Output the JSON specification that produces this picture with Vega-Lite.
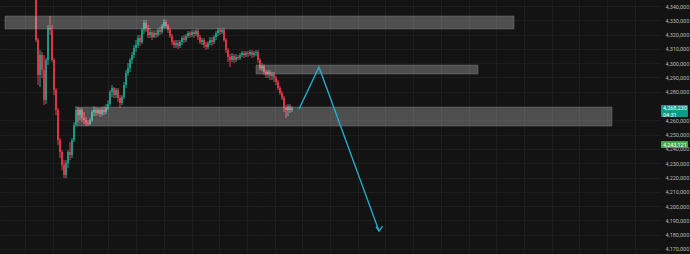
{
  "$schema": "https://vega.github.io/schema/vega-lite/v6.json",
  "width": 660,
  "height": 254,
  "autosize": {"type": "none"},
  "padding": {"left": 0, "top": 0, "right": 30, "bottom": 0},
  "background": "#131313",
  "config": {"view": {"stroke": null}, "axis": {"labelOverlap": false, "labelBound": false, "labelFlush": false}},
  "datasets": {
    "candles": [
      {"t":0,"o":4349800,"c":4316200,"h":4354700,"l":4314800},
      {"t":1,"o":4316200,"c":4291700,"h":4317600,"l":4284700},
      {"t":2,"o":4291700,"c":4305700,"h":4309200,"l":4283300},
      {"t":3,"o":4305700,"c":4295200,"h":4307800,"l":4289600},
      {"t":4,"o":4295200,"c":4274200,"h":4305700,"l":4270700},
      {"t":5,"o":4274200,"c":4302200,"h":4303600,"l":4271400},
      {"t":6,"o":4302200,"c":4324600,"h":4326700,"l":4298700},
      {"t":7,"o":4324600,"c":4323200,"h":4333000,"l":4319700},
      {"t":8,"o":4323200,"c":4302200,"h":4326700,"l":4300800},
      {"t":9,"o":4302200,"c":4281200,"h":4303600,"l":4277700},
      {"t":10,"o":4281200,"c":4267200,"h":4282600,"l":4263700},
      {"t":11,"o":4267200,"c":4246200,"h":4268600,"l":4242700},
      {"t":12,"o":4246200,"c":4237800,"h":4247600,"l":4233600},
      {"t":13,"o":4237800,"c":4228700,"h":4239200,"l":4225200},
      {"t":14,"o":4228700,"c":4221700,"h":4232200,"l":4219600},
      {"t":15,"o":4221700,"c":4230100,"h":4232200,"l":4219600},
      {"t":16,"o":4230100,"c":4237800,"h":4239200,"l":4226600},
      {"t":17,"o":4237800,"c":4235700,"h":4244800,"l":4232200},
      {"t":18,"o":4235700,"c":4246200,"h":4247600,"l":4233600},
      {"t":19,"o":4246200,"c":4256700,"h":4258800,"l":4244800},
      {"t":20,"o":4256700,"c":4267200,"h":4270000,"l":4255300},
      {"t":21,"o":4267200,"c":4263700,"h":4269300,"l":4258800},
      {"t":22,"o":4263700,"c":4267200,"h":4268600,"l":4260200},
      {"t":23,"o":4267200,"c":4261600,"h":4268600,"l":4258800},
      {"t":24,"o":4261600,"c":4260200,"h":4265800,"l":4257400},
      {"t":25,"o":4260200,"c":4258100,"h":4262300,"l":4256000},
      {"t":26,"o":4258100,"c":4257400,"h":4260200,"l":4256000},
      {"t":27,"o":4257400,"c":4260200,"h":4261600,"l":4256700},
      {"t":28,"o":4260200,"c":4265800,"h":4267200,"l":4258800},
      {"t":29,"o":4265800,"c":4267200,"h":4270000,"l":4263000},
      {"t":30,"o":4267200,"c":4265100,"h":4269300,"l":4263000},
      {"t":31,"o":4265100,"c":4267200,"h":4268600,"l":4263700},
      {"t":32,"o":4267200,"c":4264400,"h":4268600,"l":4262300},
      {"t":33,"o":4264400,"c":4267200,"h":4269300,"l":4263000},
      {"t":34,"o":4267200,"c":4265800,"h":4270000,"l":4263700},
      {"t":35,"o":4265800,"c":4268600,"h":4271400,"l":4264400},
      {"t":36,"o":4268600,"c":4271400,"h":4274200,"l":4267200},
      {"t":37,"o":4271400,"c":4279800,"h":4281200,"l":4270000},
      {"t":38,"o":4279800,"c":4282600,"h":4284700,"l":4276300},
      {"t":39,"o":4282600,"c":4277700,"h":4283300,"l":4275600},
      {"t":40,"o":4277700,"c":4281200,"h":4282600,"l":4275600},
      {"t":41,"o":4281200,"c":4275600,"h":4282600,"l":4272800},
      {"t":42,"o":4275600,"c":4272100,"h":4277700,"l":4268600},
      {"t":43,"o":4272100,"c":4276300,"h":4277700,"l":4270700},
      {"t":44,"o":4276300,"c":4284700,"h":4286800,"l":4274900},
      {"t":45,"o":4284700,"c":4293100,"h":4295200,"l":4282600},
      {"t":46,"o":4293100,"c":4296600,"h":4300100,"l":4291000},
      {"t":47,"o":4296600,"c":4302200,"h":4303600,"l":4293800},
      {"t":48,"o":4302200,"c":4305700,"h":4307800,"l":4299400},
      {"t":49,"o":4305700,"c":4310600,"h":4312700,"l":4303600},
      {"t":50,"o":4310600,"c":4312700,"h":4316200,"l":4307800},
      {"t":51,"o":4312700,"c":4317600,"h":4319700,"l":4310600},
      {"t":52,"o":4317600,"c":4314800,"h":4319700,"l":4312000},
      {"t":53,"o":4314800,"c":4323200,"h":4324600,"l":4313400},
      {"t":54,"o":4323200,"c":4328100,"h":4330200,"l":4320400},
      {"t":55,"o":4328100,"c":4324600,"h":4330200,"l":4321800},
      {"t":56,"o":4324600,"c":4319700,"h":4326700,"l":4317600},
      {"t":57,"o":4319700,"c":4321800,"h":4324600,"l":4317600},
      {"t":58,"o":4321800,"c":4318300,"h":4323200,"l":4316200},
      {"t":59,"o":4318300,"c":4321100,"h":4323200,"l":4317600},
      {"t":60,"o":4321100,"c":4319700,"h":4323200,"l":4317600},
      {"t":61,"o":4319700,"c":4323200,"h":4324600,"l":4318300},
      {"t":62,"o":4323200,"c":4321800,"h":4325300,"l":4319700},
      {"t":63,"o":4321800,"c":4326000,"h":4327400,"l":4320400},
      {"t":64,"o":4326000,"c":4328800,"h":4330900,"l":4324600},
      {"t":65,"o":4328800,"c":4326000,"h":4330200,"l":4324600},
      {"t":66,"o":4326000,"c":4323200,"h":4327400,"l":4321100},
      {"t":67,"o":4323200,"c":4319000,"h":4324600,"l":4317600},
      {"t":68,"o":4319000,"c":4314800,"h":4320400,"l":4312700},
      {"t":69,"o":4314800,"c":4312700,"h":4316200,"l":4310600},
      {"t":70,"o":4312700,"c":4314100,"h":4316200,"l":4310600},
      {"t":71,"o":4314100,"c":4312000,"h":4316200,"l":4309900},
      {"t":72,"o":4312000,"c":4314800,"h":4316200,"l":4310600},
      {"t":73,"o":4314800,"c":4317600,"h":4319000,"l":4312700},
      {"t":74,"o":4317600,"c":4316200,"h":4319700,"l":4314100},
      {"t":75,"o":4316200,"c":4319000,"h":4320400,"l":4314800},
      {"t":76,"o":4319000,"c":4321100,"h":4322500,"l":4317600},
      {"t":77,"o":4321100,"c":4319700,"h":4322500,"l":4317600},
      {"t":78,"o":4319700,"c":4321800,"h":4323200,"l":4318300},
      {"t":79,"o":4321800,"c":4320400,"h":4323200,"l":4317600},
      {"t":80,"o":4320400,"c":4322500,"h":4323900,"l":4319000},
      {"t":81,"o":4322500,"c":4318300,"h":4323900,"l":4316200},
      {"t":82,"o":4318300,"c":4314800,"h":4319700,"l":4313400},
      {"t":83,"o":4314800,"c":4316200,"h":4317600,"l":4312700},
      {"t":84,"o":4316200,"c":4312700,"h":4317600,"l":4310600},
      {"t":85,"o":4312700,"c":4311300,"h":4314800,"l":4309200},
      {"t":86,"o":4311300,"c":4314100,"h":4315500,"l":4309900},
      {"t":87,"o":4314100,"c":4316200,"h":4318300,"l":4312700},
      {"t":88,"o":4316200,"c":4314800,"h":4318300,"l":4312000},
      {"t":89,"o":4314800,"c":4318300,"h":4319700,"l":4313400},
      {"t":90,"o":4318300,"c":4321100,"h":4322500,"l":4316200},
      {"t":91,"o":4321100,"c":4323200,"h":4324600,"l":4319000},
      {"t":92,"o":4323200,"c":4321800,"h":4324600,"l":4319700},
      {"t":93,"o":4321800,"c":4323200,"h":4324600,"l":4320400},
      {"t":94,"o":4323200,"c":4316200,"h":4324600,"l":4314800},
      {"t":95,"o":4316200,"c":4309200,"h":4317600,"l":4307100},
      {"t":96,"o":4309200,"c":4304300,"h":4310600,"l":4300800},
      {"t":97,"o":4304300,"c":4302200,"h":4306400,"l":4297300},
      {"t":98,"o":4302200,"c":4305000,"h":4307100,"l":4300800},
      {"t":99,"o":4305000,"c":4302200,"h":4306400,"l":4300100},
      {"t":100,"o":4302200,"c":4304300,"h":4306400,"l":4300800},
      {"t":101,"o":4304300,"c":4303600,"h":4305700,"l":4302200},
      {"t":102,"o":4303600,"c":4305700,"h":4307100,"l":4302200},
      {"t":103,"o":4305700,"c":4307100,"h":4308500,"l":4304300},
      {"t":104,"o":4307100,"c":4305700,"h":4308500,"l":4303600},
      {"t":105,"o":4305700,"c":4307100,"h":4308500,"l":4304300},
      {"t":106,"o":4307100,"c":4306400,"h":4308500,"l":4304300},
      {"t":107,"o":4306400,"c":4307800,"h":4309200,"l":4305000},
      {"t":108,"o":4307800,"c":4305700,"h":4309200,"l":4303600},
      {"t":109,"o":4305700,"c":4307100,"h":4308500,"l":4304300},
      {"t":110,"o":4307100,"c":4307800,"h":4309200,"l":4305000},
      {"t":111,"o":4307800,"c":4302200,"h":4309200,"l":4300100},
      {"t":112,"o":4302200,"c":4296600,"h":4303600,"l":4295200},
      {"t":113,"o":4296600,"c":4298000,"h":4300100,"l":4294500},
      {"t":114,"o":4298000,"c":4293800,"h":4299400,"l":4291700},
      {"t":115,"o":4293800,"c":4291700,"h":4295200,"l":4289600},
      {"t":116,"o":4291700,"c":4293800,"h":4295200,"l":4289600},
      {"t":117,"o":4293800,"c":4291000,"h":4295200,"l":4288200},
      {"t":118,"o":4291000,"c":4292400,"h":4293800,"l":4288200},
      {"t":119,"o":4292400,"c":4289600,"h":4293800,"l":4286800},
      {"t":120,"o":4289600,"c":4286800,"h":4291000,"l":4284700},
      {"t":121,"o":4286800,"c":4282600,"h":4288200,"l":4281200},
      {"t":122,"o":4282600,"c":4279100,"h":4284000,"l":4277700},
      {"t":123,"o":4279100,"c":4275600,"h":4280500,"l":4274200},
      {"t":124,"o":4275600,"c":4268600,"h":4277000,"l":4265800},
      {"t":125,"o":4268600,"c":4267200,"h":4270700,"l":4261600},
      {"t":126,"o":4267200,"c":4270000,"h":4271400,"l":4263000},
      {"t":127,"o":4270000,"c":4267200,"h":4271400,"l":4265100},
      {"t":128,"o":4267200,"c":4268230,"h":4270000,"l":4265800}
    ],
    "zones": [
      {"t1":-15.5,"t2":239,"p1":4333000,"p2":4323900},
      {"t1":110,"t2":221,"p1":4298700,"p2":4292400},
      {"t1":20.5,"t2":288,"p1":4269300,"p2":4256000}
    ],
    "path": [
      {"g":"a","k":0,"t":131.5,"p":4267900},
      {"g":"a","k":1,"t":141.5,"p":4297300},
      {"g":"a","k":2,"t":171.5,"p":4182500},
      {"g":"b","k":0,"t":170,"p":4185650},
      {"g":"b","k":1,"t":171.5,"p":4182500},
      {"g":"b","k":2,"t":173.25,"p":4186000}
    ],
    "boxes": [
      {"t1":312.5,"t2":326,"p1":4270700,"p2":4262300,"k":"last"},
      {"t1":312.5,"t2":326,"p1":4245500,"p2":4240600,"k":"level"}
    ],
    "labels": [
      {"t":313.5,"p":4268600,"s":"4,268,230"},
      {"t":313.5,"p":4264000,"s":"04:31"},
      {"t":313.5,"p":4243000,"s":"4,243,121"}
    ]
  },
  "layer": [
    {
      "mark": {"type": "rule", "color": "#1e1e1e", "strokeWidth": 1},
      "encoding": {"y": {"datum": 4270000, "type": "quantitative"}}
    },
    {
      "data": {"name": "candles"},
      "mark": {"type": "rule", "strokeWidth": 1, "clip": true},
      "encoding": {
        "x": {"field": "t", "type": "quantitative", "title": null,
          "scale": {"domain": [-18, 312], "nice": false, "zero": false, "padding": 0},
          "axis": {"values": [-5.35,8.5,22.35,36.2,50.05,63.9,77.75,91.6,105.45,119.3,133.15,147,160.85,174.7,188.55,202.4,216.25,230.1,243.95,257.8,271.65,285.5,299.35],
            "tickCount": 200, "labels": false, "ticks": false, "domain": false, "grid": true, "gridColor": "#1e1e1e", "gridWidth": 1, "title": null}},
        "y": {"field": "l", "type": "quantitative", "title": null,
          "scale": {"domain": [4166500, 4344200], "nice": false, "zero": false, "padding": 0},
          "axis": {"orient": "right", "values": [4170000,4180000,4190000,4200000,4210000,4220000,4230000,4240000,4250000,4260000,4280000,4290000,4300000,4310000,4320000,4330000,4340000],
            "tickCount": 200, "format": ",d", "labelFont": "Roboto", "labelFontSize": 5.5, "labelColor": "#b8b8b8", "labelPadding": 5, "labelAlign": "left", "labelOverlap": false, "labelBound": false,
            "ticks": false, "domain": false, "grid": true, "gridColor": "#1e1e1e", "gridWidth": 1, "title": null}},
        "y2": {"field": "h"},
        "color": {"condition": {"test": "datum.c < datum.o", "value": "#f0394d"}, "value": "#1fa88f"}
      }
    },
    {
      "data": {"name": "candles"},
      "mark": {"type": "bar", "width": 1.6, "clip": true},
      "encoding": {
        "x": {"field": "t", "type": "quantitative", "title": null},
        "y": {"field": "o", "type": "quantitative", "title": null},
        "y2": {"field": "c"},
        "color": {"condition": {"test": "datum.c < datum.o", "value": "#f0394d"}, "value": "#1fa88f"}
      }
    },
    {
      "data": {"name": "zones"},
      "mark": {"type": "rect", "fill": "#ffffff", "fillOpacity": 0.25, "stroke": "#8a8a8a", "strokeOpacity": 0.5, "strokeWidth": 0.8},
      "encoding": {
        "x": {"field": "t1", "type": "quantitative", "title": null},
        "x2": {"field": "t2"},
        "y": {"field": "p1", "type": "quantitative", "title": null},
        "y2": {"field": "p2"}
      }
    },
    {
      "mark": {"type": "rule", "color": "#3c6a62", "strokeDash": [1, 2], "strokeWidth": 1},
      "encoding": {"y": {"datum": 4268230, "type": "quantitative"}}
    },
    {
      "mark": {"type": "rule", "color": "#3a6b32", "strokeWidth": 1.6},
      "encoding": {"y": {"datum": 4243121, "type": "quantitative"}}
    },
    {
      "data": {"name": "path"},
      "mark": {"type": "line", "color": "#22aed2", "strokeWidth": 1.4},
      "encoding": {
        "x": {"field": "t", "type": "quantitative", "title": null},
        "y": {"field": "p", "type": "quantitative", "title": null},
        "detail": {"field": "g"},
        "order": {"field": "k"}
      }
    },
    {
      "data": {"name": "boxes"},
      "mark": {"type": "rect", "cornerRadius": 1},
      "encoding": {
        "x": {"field": "t1", "type": "quantitative", "title": null},
        "x2": {"field": "t2"},
        "y": {"field": "p1", "type": "quantitative", "title": null},
        "y2": {"field": "p2"},
        "color": {"field": "k", "type": "nominal", "legend": null,
          "scale": {"domain": ["last", "level"], "range": ["#0d9a86", "#43a64a"]}}
      }
    },
    {
      "data": {"name": "labels"},
      "mark": {"type": "text", "align": "left", "baseline": "middle", "font": "Roboto", "fontSize": 5.5, "color": "#ffffff"},
      "encoding": {
        "x": {"field": "t", "type": "quantitative", "title": null},
        "y": {"field": "p", "type": "quantitative", "title": null},
        "text": {"field": "s"}
      }
    }
  ]
}
